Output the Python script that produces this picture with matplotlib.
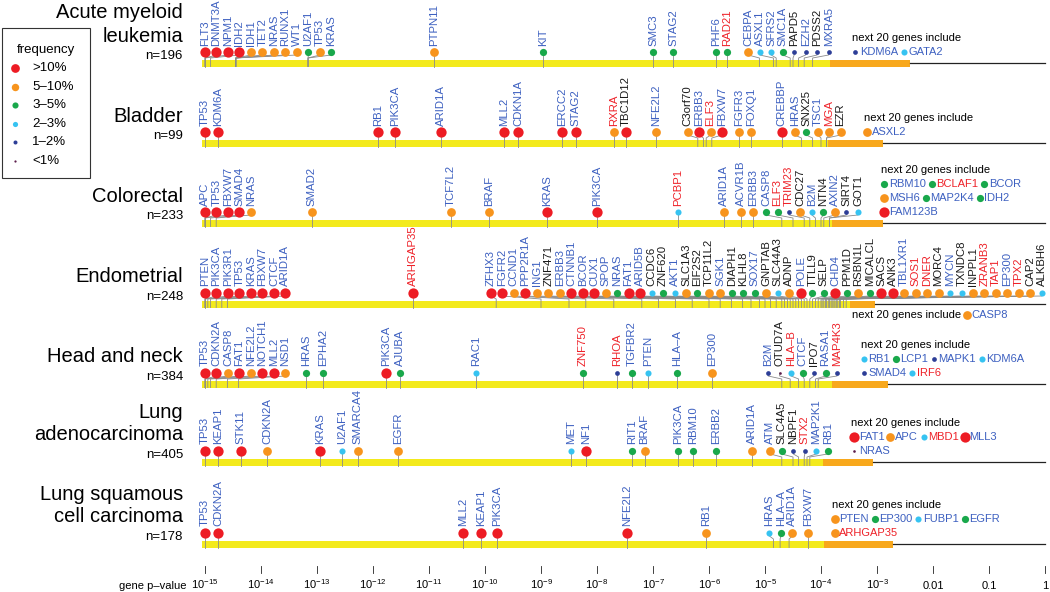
import matplotlib.pyplot as plt
from matplotlib.patches import Rectangle

plt.rcParams['font.family'] = ['Liberation Sans', 'DejaVu Sans']
plt.rcParams['mathtext.fontset'] = 'custom'
plt.rcParams['mathtext.rm'] = 'Liberation Sans'
plt.rcParams['mathtext.it'] = 'Liberation Sans:italic'
plt.rcParams['mathtext.bf'] = 'Liberation Sans:bold'

# frequency class of a gene: 0 >10%, 1 5-10%, 2 3-5%, 3 2-3%, 4 1-2%, 5 <1%
freq_names = ['>10%', '5\u201310%', '3\u20135%', '2\u20133%', '1\u20132%', '<1%']
freq_colors = ['#ed1c24', '#f7941d', '#19a84b', '#36c3f1', '#2d3e97', '#5b1d4b']
freq_sizes = [7.4, 6.3, 5.2, 4.4, 3.4, 1.9]

tick_pos = list(range(-15, 1))
tick_labels = [r'$10^{%d}$' % t for t in range(-15, -2)] + ['0.01', '0.1', '1']

titles = [['Acute myeloid', 'leukemia'], ['Bladder'], ['Colorectal'], ['Endometrial'],
          ['Head and neck'], ['Lung', 'adenocarcinoma'], ['Lung squamous', 'cell carcinoma']]
n_patients = [196, 99, 233, 248, 384, 405, 178]
yellow_end = [-3.84, -3.88, -3.80, -3.48, -3.80, -3.96, -3.95]
orange_end = [-2.41, -2.89, -2.89, -3.04, -2.80, -3.07, -2.71]

# acute myeloid leukemia
aml_genes = ['FLT3', 'DNMT3A', 'NPM1', 'IDH2', 'IDH1', 'TET2', 'NRAS', 'RUNX1', 'WT1', 'U2AF1',
             'TP53', 'KRAS', 'PTPN11', 'KIT', 'SMC3', 'STAG2', 'PHF6', 'RAD21', 'CEBPA', 'ASXL1',
             'SFRS2', 'SMC1A', 'PAPD5', 'EZH2', 'PDSS2', 'MXRA5']
aml_logp = [-15.0, -15.0, -15.0, -14.9, -14.45, -14.45, -14.45, -14.45, -14.45, -13.16,
            -13.16, -13.16, -10.91, -8.96, -7.0, -6.64, -5.88, -5.67, -5.1, -4.85,
            -4.8, -4.55, -4.5, -4.4, -4.3, -4.15]
aml_freq = [0, 0, 0, 0, 1, 1, 1, 1, 1, 2, 1, 2, 1, 2, 2, 2, 2, 2, 1, 3, 3, 2, 4, 4, 4, 4]
aml_next = [['KDM6A', 'GATA2']]
aml_next_freq = [[4, 3]]
aml_red = ['RAD21']
aml_black = ['PAPD5', 'PDSS2']

# bladder
bla_genes = ['TP53', 'KDM6A', 'RB1', 'PIK3CA', 'ARID1A', 'MLL2', 'CDKN1A', 'ERCC2', 'STAG2', 'RXRA',
             'TBC1D12', 'NFE2L2', 'C3orf70', 'ERBB3', 'ELF3', 'FBXW7', 'FGFR3', 'FOXQ1', 'CREBBP',
             'HRAS', 'SNX25', 'TSC1', 'MGA', 'EZR']
bla_logp = [-15.0, -14.77, -11.91, -11.61, -10.79, -9.66, -9.41, -8.63, -8.38, -7.70,
            -7.48, -6.95, -6.2, -6.1, -6.05, -5.95, -5.46, -5.25, -4.70,
            -4.35, -4.15, -4.0, -3.9, -3.9]
bla_freq = [0, 0, 0, 0, 0, 0, 0, 0, 0, 1, 0, 1, 1, 0, 1, 0, 1, 1, 0, 1, 2, 1, 1, 1]
bla_next = [['ASXL2']]
bla_next_freq = [[1]]
bla_red = ['RXRA', 'ELF3', 'MGA']
bla_black = ['TBC1D12', 'C3orf70', 'SNX25', 'EZR']

# colorectal
crc_genes = ['APC', 'TP53', 'FBXW7', 'SMAD4', 'NRAS', 'SMAD2', 'TCF7L2', 'BRAF', 'KRAS', 'PIK3CA',
             'PCBP1', 'ARID1A', 'ACVR1B', 'ERBB3', 'CASP8', 'ELF3', 'TRIM23', 'CDC27', 'B2M',
             'NTN4', 'AXIN2', 'SIRT4', 'GOT1']
crc_logp = [-15.0, -15.0, -15.0, -14.9, -14.8, -13.09, -10.61, -9.93, -8.89, -8.0,
            -6.55, -5.73, -5.43, -5.21, -4.7, -4.5, -4.3, -4.2, -4.1,
            -4.0, -3.95, -3.85, -3.85]
crc_freq = [0, 0, 0, 0, 1, 1, 1, 1, 0, 0, 3, 1, 1, 1, 2, 2, 4, 1, 3, 2, 1, 4, 3]
crc_next = [['RBM10', 'BCLAF1', 'BCOR'], ['MSH6', 'MAP2K4', 'IDH2'], ['FAM123B']]
crc_next_freq = [[2, 2, 2], [1, 2, 2], [0]]
crc_red = ['PCBP1', 'ELF3', 'TRIM23', 'BCLAF1']
crc_black = ['CDC27', 'NTN4', 'SIRT4', 'GOT1']

# endometrial
ucec_genes = ['PTEN', 'PIK3CA', 'PIK3R1', 'TP53', 'KRAS', 'FBXW7', 'CTCF', 'ARID1A', 'ARHGAP35',
              'ZFHX3', 'FGFR2', 'CCND1', 'PPP2R1A', 'ING1', 'ZNF471', 'ERBB3', 'CTNNB1', 'BCOR',
              'CUX1', 'SPOP', 'NRAS', 'FAT1', 'ARID5B', 'CCDC6', 'ZNF620', 'AKT1', 'SLC1A3',
              'EIF2S2', 'TCP11L2', 'SGK1', 'DIAPH1', 'KLHL8', 'SOX17', 'GNPTAB', 'SLC44A3', 'ADNP',
              'POLE', 'TTLL9', 'SELP', 'CHD4', 'PPM1D', 'RSBN1L', 'MICALCL', 'SACS', 'ANK3',
              'TBL1XR1', 'SOS1', 'DNER', 'MORC4', 'MYCN', 'TXNDC8', 'INPPL1', 'ZRANB3', 'TAP1',
              'EP300', 'TPX2', 'CAP2', 'ALKBH6']
ucec_logp = [-15.0, -15.0, -15.0, -14.95, -14.9, -14.8, -14.7, -14.6, -11.29,
             -9.8, -9.0, -8.5, -8.2, -7.7, -7.2, -6.9, -6.6, -6.3,
             -6.0, -5.8, -5.6, -5.4, -5.25, -5.1, -5.0, -4.9, -4.8,
             -4.7, -4.65, -4.6, -4.55, -4.5, -4.45, -4.4, -4.35, -4.3,
             -4.25, -4.2, -4.15, -4.1, -4.05, -4.0, -3.98, -3.95, -3.92,
             -3.9, -3.87, -3.85, -3.82, -3.8, -3.77, -3.75, -3.72, -3.7,
             -3.67, -3.65, -3.6, -3.55]
ucec_freq = [0, 0, 0, 0, 0, 0, 0, 0, 0,
             0, 0, 1, 0, 1, 1, 1, 0, 0,
             0, 1, 2, 0, 0, 3, 2, 3, 1,
             2, 1, 1, 2, 2, 2, 1, 3, 1,
             0, 2, 2, 0, 2, 1, 2, 0, 0,
             1, 1, 1, 1, 3, 3, 1, 1, 1,
             1, 1, 1, 3]
ucec_next = [['CASP8']]
ucec_next_freq = [[1]]
ucec_red = ['ARHGAP35', 'SOS1', 'DNER', 'ZRANB3', 'TAP1', 'TPX2']
ucec_black = ['ZNF471', 'CCDC6', 'ZNF620', 'SLC1A3', 'EIF2S2', 'TCP11L2', 'DIAPH1', 'KLHL8',
              'GNPTAB', 'SLC44A3', 'ADNP', 'TTLL9', 'SELP', 'PPM1D', 'RSBN1L', 'MICALCL', 'SACS',
              'ANK3', 'MORC4', 'TXNDC8', 'INPPL1', 'CAP2', 'ALKBH6']

# head and neck
hnsc_genes = ['TP53', 'CDKN2A', 'CASP8', 'FAT1', 'NFE2L2', 'NOTCH1', 'MLL2', 'NSD1', 'HRAS', 'EPHA2',
              'PIK3CA', 'AJUBA', 'RAC1', 'ZNF750', 'RHOA', 'TGFBR2', 'PTEN', 'HLA\u2013A', 'EP300',
              'B2M', 'OTUD7A', 'HLA\u2013B', 'CTCF', 'IPO7', 'RASA1', 'MAP4K3']
hnsc_logp = [-15.0, -15.0, -15.0, -14.95, -14.9, -14.8, -14.6, -14.4, -13.2, -12.89,
             -11.77, -11.52, -10.16, -8.25, -7.64, -7.38, -7.09, -6.57, -5.95,
             -4.7, -4.55, -4.4, -4.3, -4.2, -4.1, -4.05]
hnsc_freq = [0, 0, 1, 0, 1, 0, 0, 1, 2, 2, 0, 2, 3, 2, 4, 2, 3, 2, 1, 4, 5, 3, 2, 4, 2, 4]
hnsc_next = [['RB1', 'LCP1', 'MAPK1', 'KDM6A'], ['SMAD4', 'IRF6']]
hnsc_next_freq = [[3, 2, 4, 3], [4, 3]]
hnsc_red = ['ZNF750', 'RHOA', 'HLA\u2013B', 'MAP4K3', 'IRF6']
hnsc_black = ['OTUD7A', 'IPO7']

# lung adenocarcinoma
luad_genes = ['TP53', 'KEAP1', 'STK11', 'CDKN2A', 'KRAS', 'U2AF1', 'SMARCA4', 'EGFR', 'MET', 'NF1',
              'RIT1', 'BRAF', 'PIK3CA', 'RBM10', 'ERBB2', 'ARID1A', 'ATM', 'SLC4A5', 'NBPF1',
              'STX2', 'MAP2K1', 'RB1']
luad_logp = [-15.0, -14.77, -14.36, -13.89, -12.95, -12.55, -12.27, -11.55, -8.46, -8.2,
             -7.38, -7.15, -6.55, -6.29, -5.875, -5.23, -4.7, -4.5, -4.4,
             -4.3, -4.25, -4.2]
luad_freq = [0, 0, 0, 1, 0, 3, 1, 1, 3, 0, 2, 1, 2, 2, 2, 1, 1, 2, 4, 4, 3, 2]
luad_next = [['FAT1', 'APC', 'MBD1', 'MLL3'], ['NRAS']]
luad_next_freq = [[0, 1, 3, 0], [5]]
luad_red = ['STX2', 'MBD1']
luad_black = ['SLC4A5', 'NBPF1']

# lung squamous cell carcinoma
lusc_genes = ['TP53', 'CDKN2A', 'MLL2', 'KEAP1', 'PIK3CA', 'NFE2L2', 'RB1', 'HRAS', 'HLA\u2013A',
              'ARID1A', 'FBXW7']
lusc_logp = [-15.0, -14.77, -10.39, -10.07, -9.79, -7.46, -6.05, -4.85, -4.73, -4.57, -4.23]
lusc_freq = [0, 0, 0, 0, 0, 0, 1, 3, 2, 1, 1]
lusc_next = [['PTEN', 'EP300', 'FUBP1', 'EGFR'], ['ARHGAP35']]
lusc_next_freq = [[1, 2, 3, 2], [1]]
lusc_red = ['ARHGAP35']
lusc_black = []

rows = [
    (aml_genes, aml_logp, aml_freq, aml_next, aml_next_freq, aml_red, aml_black),
    (bla_genes, bla_logp, bla_freq, bla_next, bla_next_freq, bla_red, bla_black),
    (crc_genes, crc_logp, crc_freq, crc_next, crc_next_freq, crc_red, crc_black),
    (ucec_genes, ucec_logp, ucec_freq, ucec_next, ucec_next_freq, ucec_red, ucec_black),
    (hnsc_genes, hnsc_logp, hnsc_freq, hnsc_next, hnsc_next_freq, hnsc_red, hnsc_black),
    (luad_genes, luad_logp, luad_freq, luad_next, luad_next_freq, luad_red, luad_black),
    (lusc_genes, lusc_logp, lusc_freq, lusc_next, lusc_next_freq, lusc_red, lusc_black),
]

YELLOW = '#f3ea1d'
ORANGE = '#f8a81c'
BLUE = '#3d60c0'
RED = '#ee2229'
BLACK = '#1a1a1a'
STEM = '#8a8a8a'

PX = 56.0          # pixels per decade
GAP = 0.205        # min spacing between dots, in decades
bar_y = [63, 143, 223, 304, 384, 462, 544]


def X(px):
    return (px - 205) / PX - 15


def P(lp):
    return (lp + 15) * PX + 205


def spread(vals, lo=-15.0, hi=0.03):
    # place dots at their p-values, merging clusters that would overlap
    cl = []

    def start(c):
        s = c[1] / c[0] - (c[0] - 1) * GAP / 2
        return min(max(s, lo), hi - (c[0] - 1) * GAP)

    for v in vals:
        cl.append([1, v])
        while len(cl) > 1 and start(cl[-2]) + cl[-2][0] * GAP > start(cl[-1]) + 1e-9:
            c = cl.pop()
            cl[-1][0] += c[0]
            cl[-1][1] += c[1]
    out = []
    for c in cl:
        s = start(c)
        out += [s + k * GAP for k in range(c[0])]
    return out


def lab_color(g, red, black):
    if g in red:
        return RED
    if g in black:
        return BLACK
    return BLUE


fig = plt.figure(figsize=(10.5, 5.92), dpi=100)
ax = fig.add_axes([0, 0, 1, 1])
ax.set_xlim(X(0), X(1050))
ax.set_ylim(592, 0)
ax.axis('off')
renderer = fig.canvas.get_renderer()

for r, (genes, logp, freq, nxt, nxt_freq, red, black) in enumerate(rows):
    y = bar_y[r]
    dy = y - 11
    ax.barh(y, yellow_end[r] + 15.05, left=-15.05, height=7, color=YELLOW, lw=0, zorder=1)
    ax.barh(y, orange_end[r] - yellow_end[r], left=yellow_end[r], height=7, color=ORANGE,
            lw=0, zorder=1)
    ax.plot([orange_end[r], 0], [y, y], color='#222222', lw=0.9, zorder=1)

    xs = spread(logp)
    for g, b, d, f in zip(genes, logp, xs, freq):
        ax.plot([b, b, d, d], [y + 3.5, y - 5, dy + 3, dy], color=STEM, lw=0.6, zorder=2)
        ax.scatter(d, dy, s=freq_sizes[f] ** 2, color=freq_colors[f], lw=0, zorder=3)
        ax.text(d, dy - 6.5, g, rotation=90, ha='center', va='bottom', fontsize=8.2,
                color=lab_color(g, red, black))

    # cancer type and sample size
    for i, line in enumerate(reversed(titles[r])):
        ax.text(X(183), y - 27 - 23 * i, line, ha='right', va='center', fontsize=14.5)
    ax.text(X(183), y - 7, 'n=%d' % n_patients[r], ha='right', va='center', fontsize=9.5)

    # next 20 genes
    if r == 3:
        x0 = P(yellow_end[r]) + 2
        t = ax.text(X(x0), y + 11, 'next 20 genes include', va='center', fontsize=8)
        cur = t.get_window_extent(renderer).x1 + 2
        line_ys = [y + 11]
        starts = [cur]
    else:
        x0 = P(xs[-1]) + 23.5
        first = dy - 14 * (len(nxt) - 1)
        ax.text(X(x0), first - 14, 'next 20 genes include', va='center', fontsize=8)
        line_ys = [first + 14 * i for i in range(len(nxt))]
        starts = [x0 - 1] * len(nxt)
    for line, lf, ly, cur in zip(nxt, nxt_freq, line_ys, starts):
        for g, f in zip(line, lf):
            ax.scatter(X(cur + 4), ly, s=freq_sizes[f] ** 2, color=freq_colors[f], lw=0, zorder=3)
            t = ax.text(X(cur + 8.5), ly, g, va='center', fontsize=8, color=lab_color(g, red, black))
            cur = t.get_window_extent(renderer).x1 + 2

# legend
ax.add_patch(Rectangle((X(2), 28), 88 / PX, 150, fill=False, edgecolor='#333333', lw=0.8))
ax.text(X(46), 50, 'frequency', ha='center', va='center', fontsize=9.5)
for i, name in enumerate(freq_names):
    ly = 68 + 18.6 * i
    ax.scatter(X(15), ly, s=(freq_sizes[i] * 0.85) ** 2, color=freq_colors[i], lw=0)
    ax.text(X(32), ly, name, va='center', fontsize=9.5)

# p-value axis
for t, lab in zip(tick_pos, tick_labels):
    ax.plot([t, t], [566, 573], color='#222222', lw=0.6)
    ax.text(t, 589, lab, ha='center', va='baseline', fontsize=8)
ax.text(X(187), 589, 'gene p\u2013value', ha='right', va='baseline', fontsize=8)

fig.savefig('out.png', dpi=100)
